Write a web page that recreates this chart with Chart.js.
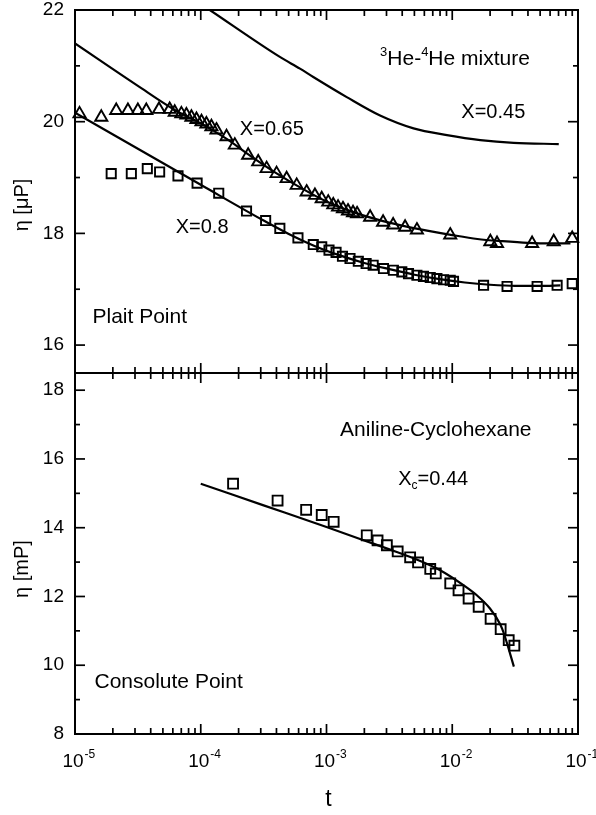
<!DOCTYPE html>
<html>
<head>
<meta charset="utf-8">
<title>Viscosity near critical points</title>
<script src="https://cdn.jsdelivr.net/npm/chart.js@4.4.1/dist/chart.umd.min.js"></script>
<style>
  body { margin: 0; background: #fff; }
  canvas { display: block; }
</style>
</head>
<body>
<canvas id="chart" width="596" height="815"></canvas>
<script>
// values; t is kept as log10(t)

// top panel, 3He-4He, X=0.65 (triangles)
const triLogT = [-4.964, -4.791, -4.672, -4.579, -4.500, -4.433, -4.332, -4.247, -4.207, -4.154,
  -4.114, -4.074, -4.034, -3.994, -3.955, -3.915, -3.875, -3.795, -3.729, -3.623,
  -3.543, -3.476, -3.397, -3.317, -3.237, -3.158, -3.092, -3.038, -2.986, -2.946,
  -2.908, -2.869, -2.829, -2.789, -2.757, -2.653, -2.550, -2.470, -2.375, -2.281,
  -2.016, -1.697, -1.644, -1.365, -1.193, -1.046];
const triEta = [20.14, 20.08, 20.20, 20.20, 20.20, 20.20, 20.22, 20.22, 20.17, 20.14,
  20.12, 20.08, 20.04, 20.00, 19.96, 19.91, 19.85, 19.73, 19.58, 19.40,
  19.28, 19.16, 19.07, 18.98, 18.86, 18.74, 18.68, 18.62, 18.56, 18.51,
  18.47, 18.44, 18.40, 18.37, 18.35, 18.29, 18.20, 18.15, 18.11, 18.06,
  17.97, 17.85, 17.82, 17.82, 17.85, 17.91];

// top panel, X=0.8 (squares)
const sqTopLogT = [-4.712, -4.552, -4.425, -4.327, -4.181, -4.029, -3.857, -3.636, -3.484, -3.371,
  -3.227, -3.105, -3.038, -2.980, -2.924, -2.873, -2.813, -2.747, -2.685, -2.629,
  -2.547, -2.468, -2.401, -2.348, -2.281, -2.229, -2.175, -2.122, -2.069, -2.016,
  -1.990, -1.751, -1.564, -1.325, -1.166, -1.046];
const sqTopEta = [19.07, 19.07, 19.16, 19.10, 19.03, 18.90, 18.72, 18.40, 18.23, 18.09,
  17.92, 17.80, 17.76, 17.70, 17.66, 17.59, 17.55, 17.50, 17.46, 17.43,
  17.37, 17.34, 17.31, 17.28, 17.25, 17.23, 17.21, 17.19, 17.17, 17.16,
  17.14, 17.07, 17.05, 17.05, 17.07, 17.10];

// fitted curves, top panel
const c45LogT = [-3.928, -3.371, -3.211, -3.105, -2.839, -2.574, -2.308, -2.042, -1.777, -1.512, -1.153];
const c45Eta = [22.0, 21.16, 20.95, 20.80, 20.44, 20.11, 19.88, 19.76, 19.67, 19.62, 19.60];

const c65LogT = [-5.0, -4.5, -4.2, -4.0, -3.8, -3.6, -3.4, -3.2, -3.0, -2.8, -2.6, -2.4, -2.2, -2.0, -1.8, -1.6, -1.4, -1.2, -1.06];
const c65Eta = [21.40, 20.64, 20.20, 19.97, 19.70, 19.38, 19.08, 18.81, 18.57, 18.39, 18.25, 18.14, 18.05, 17.97, 17.90, 17.86, 17.83, 17.82, 17.82];

const c80LogT = [-5.0, -4.0, -3.5, -3.3, -3.1, -2.9, -2.7, -2.5, -2.3, -2.1, -1.9, -1.7, -1.5, -1.3, -1.14];
const c80Eta = [20.16, 18.87, 18.23, 17.99, 17.78, 17.61, 17.47, 17.36, 17.26, 17.18, 17.12, 17.08, 17.06, 17.06, 17.07];

// bottom panel, aniline-cyclohexane (squares + fit)
const sqBotLogT = [-3.743, -3.389, -3.162, -3.038, -2.943, -2.680, -2.594, -2.520, -2.434, -2.335,
  -2.272, -2.175, -2.131, -2.016, -1.950, -1.870, -1.790, -1.695, -1.615, -1.551, -1.506];
const sqBotEta = [15.28, 14.79, 14.52, 14.37, 14.17, 13.78, 13.63, 13.49, 13.31, 13.14,
  12.99, 12.80, 12.67, 12.38, 12.18, 11.94, 11.70, 11.35, 11.05, 10.73, 10.57];

const cBotLogT = [-4.0, -3.5, -3.0, -2.7, -2.5, -2.3, -2.1, -1.9, -1.8, -1.7, -1.62, -1.59, -1.51];
const cBotEta = [15.28, 14.65, 14.02, 13.63, 13.37, 13.10, 12.77, 12.30, 12.02, 11.65, 11.20, 10.93, 9.96];

// tick labels
const xTickExps = [-5, -4, -3, -2, -1];
const topTicks = [16, 18, 20, 22];
const botTicks = [8, 10, 12, 14, 16, 18];

const FONT = '"Liberation Sans", Arial, Helvetica, sans-serif';

const pts = (logT, eta) => logT.map((e, i) => ({ x: Math.pow(10, e), y: eta[i] }));

// text notes, anchored in data coordinates (left edge, baseline)
const notes = [
  { parts: [{ t: '3', sup: true }, { t: 'He-' }, { t: '4', sup: true }, { t: 'He mixture' }], logT: -2.574, eta: 21.01, axis: 'y1', size: 21 },
  { parts: [{ t: 'X=0.45' }], logT: -1.928, eta: 20.06, axis: 'y1', size: 20 },
  { parts: [{ t: 'X=0.65' }], logT: -3.689, eta: 19.76, axis: 'y1', size: 20 },
  { parts: [{ t: 'X=0.8' }], logT: -4.199, eta: 18.01, axis: 'y1', size: 20 },
  { parts: [{ t: 'Plait Point' }], logT: -4.861, eta: 16.40, axis: 'y1', size: 21 },
  { parts: [{ t: 'Aniline-Cyclohexane' }], logT: -2.892, eta: 16.68, axis: 'y2', size: 21 },
  { parts: [{ t: 'X' }, { t: 'c', sub: true }, { t: '=0.44' }], logT: -2.430, eta: 15.25, axis: 'y2', size: 20 },
  { parts: [{ t: 'Consolute Point' }], logT: -4.845, eta: 9.34, axis: 'y2', size: 21 },
];

function seg(ctx, x1, y1, x2, y2) {
  ctx.beginPath();
  ctx.moveTo(x1, y1);
  ctx.lineTo(x2, y2);
  ctx.stroke();
}

function richText(ctx, parts, x, y, size) {
  let cx = x;
  for (const p of parts) {
    const s = (p.sup || p.sub) ? Math.round(size * 0.6) : size;
    ctx.font = s + 'px ' + FONT;
    const dy = p.sup ? -size * 0.42 : (p.sub ? size * 0.22 : 0);
    ctx.fillText(p.t, cx, y + dy);
    cx += ctx.measureText(p.t).width;
  }
}

function yTicks(ctx, scale, L, R, majors) {
  for (let v = Math.ceil(scale.min); v <= Math.floor(scale.max); v++) {
    const py = scale.getPixelForValue(v);
    const len = majors.includes(v) ? 10 : 5;
    seg(ctx, L, py, L + len, py);
    seg(ctx, R - len, py, R, py);
  }
}

// frame, inward ticks and all the text
const axesPlugin = {
  id: 'axesFrame',
  afterDatasetsDraw(chart) {
    const { ctx } = chart;
    const xs = chart.scales.x, top = chart.scales.y1, bot = chart.scales.y2;
    const L = xs.left, R = xs.right, T = top.top, M = top.bottom, B = bot.bottom;
    ctx.save();
    ctx.strokeStyle = '#000';
    ctx.lineWidth = 2;
    ctx.strokeRect(L, T, R - L, B - T);
    seg(ctx, L, M, R, M);

    ctx.lineWidth = 1.7;
    const first = xTickExps[0], last = xTickExps[xTickExps.length - 1];
    for (let e = first; e <= last; e++) {
      for (let m = 1; m <= 9; m++) {
        if (e === last && m > 1) break;
        const px = xs.getPixelForValue(m * Math.pow(10, e));
        const len = m === 1 ? 10 : 6;
        seg(ctx, px, T, px, T + len);
        seg(ctx, px, M - len, px, M + len);
        seg(ctx, px, B - len, px, B);
      }
    }
    yTicks(ctx, top, L, R, topTicks);
    yTicks(ctx, bot, L, R, botTicks);

    ctx.fillStyle = '#000';
    ctx.font = '19px ' + FONT;
    ctx.textAlign = 'right';
    ctx.textBaseline = 'middle';
    topTicks.forEach(v => ctx.fillText(String(v), L - 11, top.getPixelForValue(v)));
    botTicks.forEach(v => ctx.fillText(String(v), L - 11, bot.getPixelForValue(v)));

    // 10^n labels
    ctx.textBaseline = 'alphabetic';
    xTickExps.forEach(e => {
      const px = xs.getPixelForValue(Math.pow(10, e));
      ctx.font = '19px ' + FONT;
      ctx.textAlign = 'center';
      ctx.fillText('10', px - 2, B + 33);
      const w = ctx.measureText('10').width;
      ctx.font = '12px ' + FONT;
      ctx.textAlign = 'left';
      ctx.fillText(String(e), px - 2 + w / 2 + 1, B + 24);
    });

    ctx.font = '23px ' + FONT;
    ctx.textAlign = 'center';
    ctx.fillText('t', (L + R) / 2 + 2, B + 72);

    ctx.textAlign = 'left';
    notes.forEach(n => {
      const x = xs.getPixelForValue(Math.pow(10, n.logT));
      const y = chart.scales[n.axis].getPixelForValue(n.eta);
      richText(ctx, n.parts, x, y, n.size);
    });

    // axis titles
    ctx.font = '20px ' + FONT;
    ctx.textAlign = 'center';
    ctx.textBaseline = 'middle';
    [['η [μP]', 205], ['η [mP]', 569]].forEach(([txt, cy]) => {
      ctx.save();
      ctx.translate(22, cy);
      ctx.rotate(-Math.PI / 2);
      ctx.fillText(txt, 0, 0);
      ctx.restore();
    });
    ctx.restore();
  }
};

const curve = (data, axis) => ({
  data, yAxisID: axis, showLine: true, pointRadius: 0,
  borderColor: '#000', borderWidth: 2.2, cubicInterpolationMode: 'monotone'
});
const marks = (data, axis, style, r) => ({
  data, yAxisID: axis, showLine: false, pointStyle: style, pointRadius: r,
  borderColor: '#000', backgroundColor: 'rgba(0,0,0,0)', borderWidth: 1.9, clip: 8
});

new Chart(document.getElementById('chart'), {
  type: 'scatter',
  data: {
    datasets: [
      curve(pts(c45LogT, c45Eta), 'y1'),
      curve(pts(c65LogT, c65Eta), 'y1'),
      curve(pts(c80LogT, c80Eta), 'y1'),
      marks(pts(triLogT, triEta), 'y1', 'triangle', 7),
      marks(pts(sqTopLogT, sqTopEta), 'y1', 'rect', 6.5),
      curve(pts(cBotLogT, cBotEta), 'y2'),
      marks(pts(sqBotLogT, sqBotEta), 'y2', 'rect', 7),
    ]
  },
  options: {
    responsive: false,
    animation: false,
    devicePixelRatio: 1,
    layout: { padding: { left: 75, right: 18, top: 10, bottom: 81 } },
    plugins: { legend: { display: false }, tooltip: { enabled: false } },
    scales: {
      x: { type: 'logarithmic', min: 1e-5, max: 1e-1, display: false },
      y1: { type: 'linear', min: 15.5, max: 22, position: 'left', stack: 'eta', stackWeight: 363, weight: 2, display: false },
      y2: { type: 'linear', min: 8, max: 18.5, position: 'left', stack: 'eta', stackWeight: 361, weight: 1, display: false }
    }
  },
  plugins: [axesPlugin]
});
</script>
</body>
</html>
